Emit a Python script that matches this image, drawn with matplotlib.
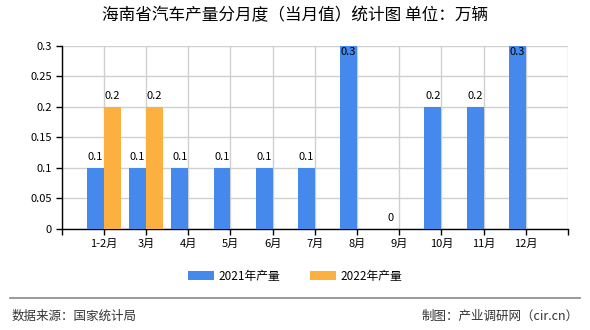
import numpy as np
import matplotlib.pyplot as plt

plt.rcParams['font.family'] = ['Noto Sans CJK SC', 'DejaVu Sans']

months = ["1-2月", "3月", "4月", "5月", "6月", "7月", "8月", "9月", "10月", "11月", "12月"]
prod_2021 = [0.1, 0.1, 0.1, 0.1, 0.1, 0.1, 0.3, 0, 0.2, 0.2, 0.3]
prod_2022 = [0.2, 0.2]

BLUE = "#4589ec"
ORANGE = "#fbb03f"

fig = plt.figure(figsize=(5.9, 3.3), dpi=100)
ax = fig.add_axes([0.1045, 0.306, 0.858, 0.555])

x = np.arange(1, len(months) + 1)
w = 0.4
b1 = ax.bar(x - w / 2, prod_2021, width=w, color=BLUE, label="2021年产量", zorder=3)
x2 = x[:len(prod_2022)]
b2 = ax.bar(x2 + w / 2, prod_2022, width=w, color=ORANGE, label="2022年产量", zorder=3)

ymax = 0.3
for bars, vals in [(b1, prod_2021), (b2, prod_2022)]:
    for bar, v in zip(bars, vals):
        cx = bar.get_x() + bar.get_width() / 2
        if v >= ymax:
            # values at the top of the scale go inside the bar
            ax.annotate(f"{v:g}", (cx, v), xytext=(0, -1), textcoords="offset points",
                        ha="center", va="top", fontsize=8, zorder=4)
        else:
            ax.annotate(f"{v:g}", (cx, v), xytext=(0, 4), textcoords="offset points",
                        ha="center", va="bottom", fontsize=8, zorder=4)

ax.set_xlim(0, len(months) + 1)
ax.set_ylim(0, ymax)
ax.set_xticks(np.arange(0, len(months) + 2))
ax.set_xticklabels([""] + months + [""], fontsize=8)
ax.set_yticks([0, 0.05, 0.1, 0.15, 0.2, 0.25, 0.3])
ax.set_yticklabels(["0", "0.05", "0.1", "0.15", "0.2", "0.25", "0.3"], fontsize=8)
ax.tick_params(length=4, width=1, color="black", pad=3)
ax.grid(True, color="#d0d0d0", linewidth=1, zorder=0)
for s in ["top", "right"]:
    ax.spines[s].set_visible(False)
for s in ["left", "bottom"]:
    ax.spines[s].set_color("black")
    ax.spines[s].set_linewidth(1)

fig.text(0.5, 0.952, "海南省汽车产量分月度（当月值）统计图 单位：万辆",
         ha="center", va="center", fontsize=12)

fig.legend(handles=[b1, b2], loc="center", bbox_to_anchor=(0.5, 0.163), ncol=2,
           frameon=False, fontsize=8.5, handlelength=2.2, handleheight=0.8,
           columnspacing=2.5, handletextpad=0.4)

fig.add_artist(plt.Line2D([0.017, 0.983], [0.097, 0.097], color="#888888",
                          linewidth=1.2, transform=fig.transFigure))
fig.text(0.02, 0.043, "数据来源：国家统计局", ha="left", va="center", fontsize=9, color="#333333")
fig.text(0.98, 0.043, "制图：产业调研网（cir.cn）", ha="right", va="center", fontsize=9, color="#333333")

fig.savefig("out.png", dpi=100)
